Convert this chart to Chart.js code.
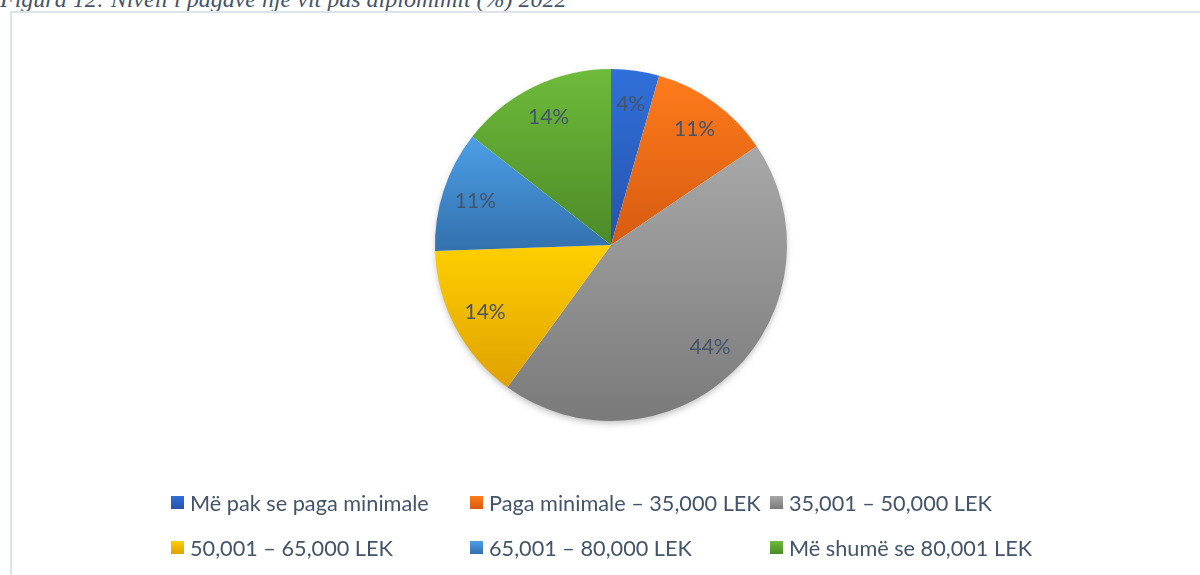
<!DOCTYPE html>
<html>
<head>
<meta charset="utf-8">
<script src="https://cdn.jsdelivr.net/npm/chart.js@4.4.1/dist/chart.umd.min.js"></script>
<style>
  html, body { margin: 0; padding: 0; background: #fff; }
  body { width: 1200px; height: 575px; position: relative; overflow: hidden; font-family: Lato, "Open Sans", sans-serif; }
  #caption { position: absolute; left: 0; top: -13px; font: italic 24px/24px "Liberation Serif", serif; color: #44546A; white-space: nowrap; }
  #frame { position: absolute; left: 10px; top: 11px; width: 1300px; height: 700px; border: 2px solid #DDE3EA; box-sizing: border-box; }
  #wrap { position: absolute; left: 0; top: 0; width: 1200px; height: 575px; }
  #legend { position: absolute; left: 171px; top: 480px; display: grid; grid-template-columns: 299px 300px auto; grid-auto-rows: 45px; color: #44546A; font-size: 21.7px; }
  .item { display: flex; align-items: center; white-space: nowrap; }
  .box { width: 13px; height: 13px; margin-right: 6px; flex: none; }
</style>
</head>
<body>
<div id="caption">Figura 12: Niveli i pagave një vit pas diplomimit (%) 2022</div>
<div id="frame"></div>
<div id="wrap"><canvas id="payChart"></canvas></div>
<div id="legend"></div>

<script>
// salary bands, share of graduates (%)
const labels = [
    'Më pak se paga minimale',
    'Paga minimale – 35,000 LEK',
    '35,001 – 50,000 LEK',
    '50,001 – 65,000 LEK',
    '65,001 – 80,000 LEK',
    'Më shumë se 80,001 LEK'
];
const values = [4.4, 11.1, 44.4, 14.4, 11.1, 14.4];

// gradient fill per slice, light at top, dark at bottom
const topColors = ['#3070DA', '#FF7C1C', '#A8A8A8', '#FFCF00', '#4C9FE6', '#6EBB3A'];
const bottomColors = ['#2752AC', '#D65A10', '#7A7A7A', '#DFA100', '#3370AD', '#4C8A28'];

const total = values.reduce((a, b) => a + b, 0);

function sliceGradient(c) {
    const chart = c.chart;
    const area = chart.chartArea;
    const i = c.dataIndex;
    if (!area || i === undefined) return topColors[i || 0];
    const cx = (area.left + area.right) / 2;
    const cy = (area.top + area.bottom) / 2;
    const r = Math.min(area.right - area.left, area.bottom - area.top) / 2;
    let start = 0;
    for (let k = 0; k < i; k++) start += values[k];
    const a0 = -Math.PI / 2 + start / total * 2 * Math.PI;
    const a1 = a0 + values[i] / total * 2 * Math.PI;
    const ys = [cy, cy + r * Math.sin(a0), cy + r * Math.sin(a1)];
    [-Math.PI / 2, Math.PI / 2, 3 * Math.PI / 2].forEach(t => {
        if (t >= a0 && t <= a1) ys.push(cy + r * Math.sin(t));
    });
    const g = chart.ctx.createLinearGradient(0, Math.min(...ys), 0, Math.max(...ys));
    g.addColorStop(0, topColors[i]);
    g.addColorStop(1, bottomColors[i]);
    return g;
}

// soft shadow under the whole pie
const pieShadow = {
    id: 'pieShadow',
    beforeDatasetsDraw(chart) {
        const arc = chart.getDatasetMeta(0).data[0];
        if (!arc) return;
        const ctx = chart.ctx;
        ctx.save();
        ctx.shadowColor = 'rgba(0,0,0,0.28)';
        ctx.shadowBlur = 7;
        ctx.shadowOffsetY = 3;
        ctx.fillStyle = '#fff';
        ctx.beginPath();
        ctx.arc(arc.x, arc.y, arc.outerRadius - 1, 0, Math.PI * 2);
        ctx.fill();
        ctx.restore();
    }
};

// percentage labels inside slices
const pieLabels = {
    id: 'pieLabels',
    afterDatasetsDraw(chart) {
        const ctx = chart.ctx;
        ctx.save();
        ctx.font = '21px Lato';
        ctx.fillStyle = '#44546A';
        ctx.textAlign = 'center';
        ctx.textBaseline = 'middle';
        chart.getDatasetMeta(0).data.forEach((arc, i) => {
            const mid = (arc.startAngle + arc.endAngle) / 2;
            const rr = arc.outerRadius * 0.81;
            ctx.fillText(Math.round(values[i]) + '%', arc.x + Math.cos(mid) * rr, arc.y + Math.sin(mid) * rr);
        });
        ctx.restore();
    }
};

const ctx = document.getElementById('payChart').getContext('2d');

const payChart = new Chart(ctx, {
    type: 'pie',
    data: {
        labels: labels,
        datasets: [{
            data: values,
            backgroundColor: sliceGradient,
            borderWidth: 0,
            hoverOffset: 0,
            offset: 0
        }]
    },
    options: {
        responsive: true,
        maintainAspectRatio: false,
        animation: false,
        events: [],
        layout: { padding: { top: 69, bottom: 154, left: 435, right: 413 } },
        plugins: {
            legend: { display: false },
            tooltip: { enabled: false }
        }
    },
    plugins: [pieShadow, pieLabels]
});

// legend laid out in three columns like the original
const legend = document.getElementById('legend');
labels.forEach((text, i) => {
    const item = document.createElement('div');
    item.className = 'item';
    const box = document.createElement('span');
    box.className = 'box';
    box.style.background = `linear-gradient(${topColors[i]}, ${bottomColors[i]})`;
    const span = document.createElement('span');
    span.innerText = text;
    item.appendChild(box);
    item.appendChild(span);
    legend.appendChild(item);
});
</script>
</body>
</html>
